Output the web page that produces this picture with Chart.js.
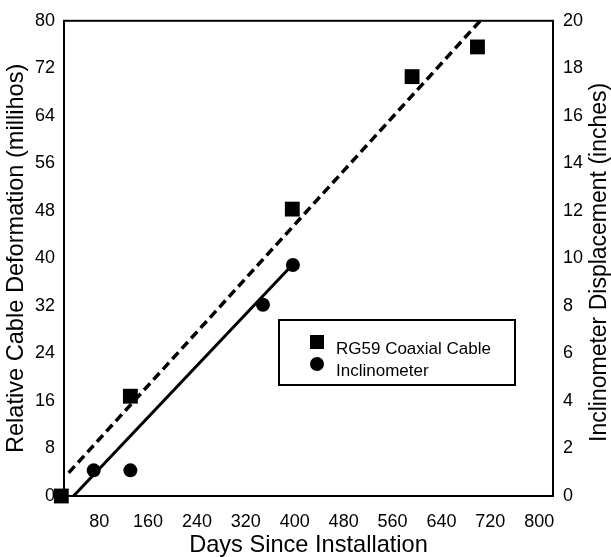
<!DOCTYPE html>
<html><head><meta charset="utf-8">
<script src="https://cdn.jsdelivr.net/npm/chart.js@4.4.1/dist/chart.umd.min.js"></script>
<style>html,body{margin:0;padding:0;background:#fff;}#wrap{width:611px;height:557px;}</style>
</head><body><div id="wrap"><canvas id="c" width="611" height="557"></canvas></div>
<script>
// Data
const cableDays   = [18, 131, 396, 592, 699];
const cableValues = [0, 16.8, 48.3, 70.6, 75.6];           // millihos (left axis)
const inclDays    = [71, 131, 348, 397];
const inclValues  = [1.08, 1.08, 8.05, 9.72];               // inches (right axis)
const cableFitDays   = [30, 703.5];
const cableFitValues = [3.9, 80];
const inclFitDays    = [38, 397];
const inclFitValues  = [0, 9.75];
const xTickValues = [80, 160, 240, 320, 400, 480, 560, 640, 720, 800];
const seriesLabels = ['RG59 Coaxial Cable', 'Inclinometer'];
const xTitle = 'Days Since Installation';
const yTitle = 'Relative Cable Deformation (millihos)';
const y2Title = 'Inclinometer Displacement (inches)';

const pts = (xs, ys) => xs.map((x, i) => ({x, y: ys[i]}));
const FONT = '"Liberation Sans", Arial, Helvetica, sans-serif';
Chart.defaults.font.family = FONT;
Chart.defaults.color = '#000';

const framePlugin = {
  id: 'frame',
  afterDraw(chart) {
    const {ctx, chartArea: a} = chart;
    ctx.save();
    ctx.strokeStyle = '#000';
    ctx.lineWidth = 2;
    ctx.strokeRect(a.left, a.top, a.right - a.left, a.bottom - a.top);
    // right axis title, reading bottom to top
    ctx.font = '23px ' + FONT;
    ctx.fillStyle = '#000';
    ctx.textAlign = 'center';
    ctx.textBaseline = 'middle';
    ctx.translate(600, (a.top + a.bottom) / 2 + 4);
    ctx.rotate(-Math.PI / 2);
    ctx.fillText(y2Title, 0, 0);
    ctx.restore();
    // legend
    ctx.save();
    const lx = 279, ly = 320, lw = 236, lh = 65;
    ctx.fillStyle = '#fff';
    ctx.fillRect(lx, ly, lw, lh);
    ctx.strokeStyle = '#000';
    ctx.lineWidth = 2;
    ctx.strokeRect(lx, ly, lw, lh);
    ctx.fillStyle = '#000';
    ctx.fillRect(310, 335, 14, 14);
    ctx.beginPath();
    ctx.arc(317, 364, 7, 0, Math.PI * 2);
    ctx.fill();
    ctx.font = '17px ' + FONT;
    ctx.textAlign = 'left';
    ctx.textBaseline = 'middle';
    ctx.fillText(seriesLabels[0], 336, 349);
    ctx.fillText(seriesLabels[1], 336, 371);
    ctx.restore();
  }
};

new Chart(document.getElementById('c'), {
  type: 'scatter',
  data: {
    datasets: [
      {label: seriesLabels[0], data: pts(cableDays, cableValues), yAxisID: 'y',
       pointStyle: 'rect', pointRadius: 10.5, pointHoverRadius: 10.5,
       backgroundColor: '#000', borderColor: '#000', borderWidth: 0, clip: false, order: 1},
      {label: seriesLabels[1], data: pts(inclDays, inclValues), yAxisID: 'y2',
       pointStyle: 'circle', pointRadius: 7, pointHoverRadius: 7,
       backgroundColor: '#000', borderColor: '#000', borderWidth: 0, order: 2},
      {label: 'cable fit', data: pts(cableFitDays, cableFitValues), yAxisID: 'y',
       showLine: true, borderDash: [9, 5], borderWidth: 3.5, borderColor: '#000',
       pointRadius: 0, order: 3},
      {label: 'incl fit', data: pts(inclFitDays, inclFitValues), yAxisID: 'y2',
       showLine: true, borderWidth: 3, borderColor: '#000', pointRadius: 0, order: 4}
    ]
  },
  options: {
    responsive: false,
    animation: false,
    devicePixelRatio: 1,
    layout: {padding: {top: 16, left: 0, right: 0, bottom: 0}},
    plugins: {legend: {display: false}, tooltip: {enabled: false}},
    scales: {
      x: {
        type: 'linear', position: 'bottom', min: 22.4, max: 822.6,
        afterBuildTicks: s => { s.ticks = xTickValues.map(v => ({value: v})); },
        afterFit: s => { s.height = 61; },
        grid: {display: false, drawTicks: false}, border: {display: false},
        ticks: {font: {size: 18}, padding: 15, maxRotation: 0, autoSkip: false},
        title: {display: true, text: xTitle, font: {size: 23.6, lineHeight: 1}, padding: {top: 0, bottom: 0}}
      },
      y: {
        position: 'left', min: 0, max: 80,
        afterFit: s => { s.width = 64; },
        grid: {display: false, drawTicks: false}, border: {display: false},
        ticks: {stepSize: 8, font: {size: 18}, padding: 9},
        title: {display: true, text: yTitle, font: {size: 23.6, lineHeight: 1}, padding: {top: 5, bottom: 0}}
      },
      y2: {
        position: 'right', min: 0, max: 20,
        afterFit: s => { s.width = 58; },
        grid: {display: false, drawTicks: false}, border: {display: false},
        ticks: {stepSize: 2, font: {size: 18}, padding: 10}
      }
    }
  },
  plugins: [framePlugin]
});
</script>
</body></html>
